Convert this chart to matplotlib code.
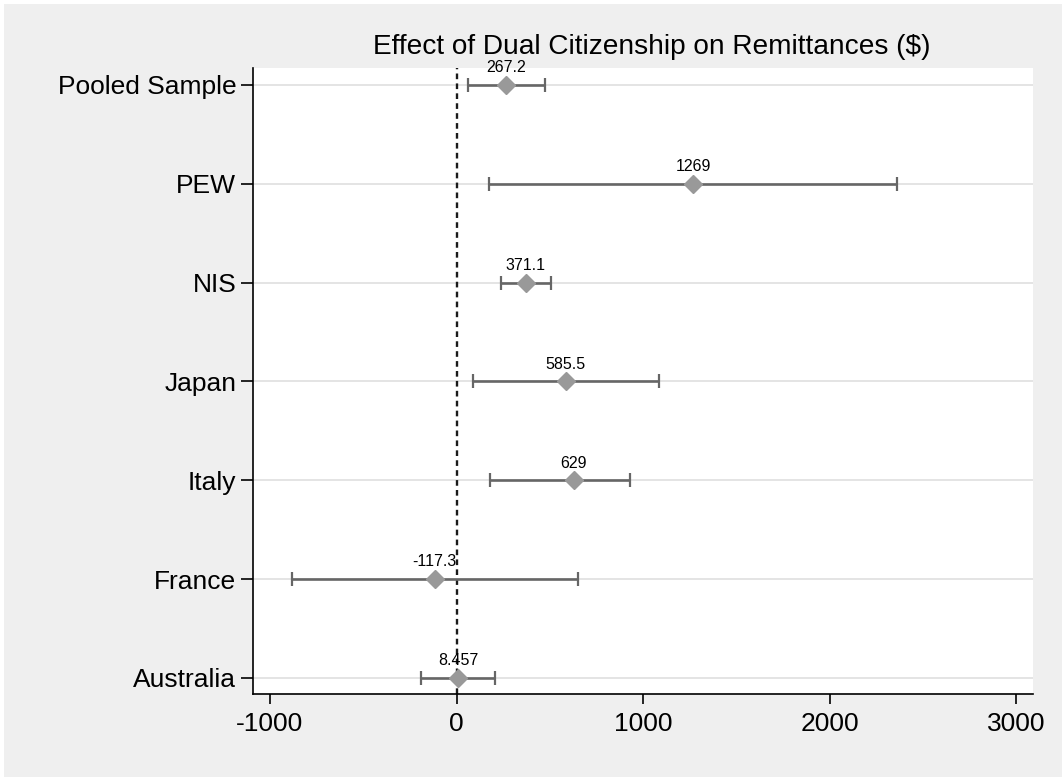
import matplotlib.pyplot as plt
from matplotlib.patches import Rectangle

plt.rcParams['font.family'] = ['Liberation Sans', 'DejaVu Sans']

# estimates and 95% intervals, top to bottom as in the chart
labels = ['Pooled Sample', 'PEW', 'NIS', 'Japan', 'Italy', 'France', 'Australia']
effect = [267.2, 1269, 371.1, 585.5, 629, -117.3, 8.457]
ci_low = [61, 175, 236, 87, 177, -884, -189]
ci_high = [473, 2361, 504, 1087, 932, 648, 204]
value_text = ['267.2', '1269', '371.1', '585.5', '629', '-117.3', '8.457']
xticks = [-1000, 0, 1000, 2000, 3000]

bg = '#efefef'
fig = plt.figure(figsize=(10.62, 7.77), dpi=100, facecolor='white')
fig.patches.append(Rectangle((4 / 1062, 0), 1, 1 - 4 / 777, transform=fig.transFigure,
                             facecolor=bg, edgecolor='none', zorder=-10))
ax = fig.add_axes([253 / 1062, 1 - 694 / 777, (1033 - 253) / 1062, (694 - 68) / 777])
ax.set_facecolor('white')

# first label at the top
ypos = list(range(len(labels) - 1, -1, -1))

for y in ypos:
    ax.axhline(y, color='#e4e4e4', lw=1.4, zorder=0)

ax.axvline(0, color='#1a1a1a', lw=1.7, linestyle=(0, (2.4, 1.8)), zorder=1)

xerr = [[e - lo for e, lo in zip(effect, ci_low)], [hi - e for e, hi in zip(effect, ci_high)]]
ax.errorbar(effect, ypos, xerr=xerr, fmt='none', ecolor='#666666', elinewidth=1.9,
            capsize=4.8, capthick=1.6, zorder=2)
ax.plot(effect, ypos, linestyle='none', marker='D', markersize=9.5,
        color='#999999', markeredgecolor='#999999', zorder=3)

for x, y, t in zip(effect, ypos, value_text):
    ax.annotate(t, (x, y), xytext=(0, 7), textcoords='offset points',
                ha='center', va='bottom', fontsize=11.5)

ax.set_xlim(-1091, 3089)
ax.set_ylim(-0.162, 6.172)
ax.set_xticks(xticks)
ax.set_xticklabels([str(v) for v in xticks])
ax.set_yticks(ypos)
ax.set_yticklabels(labels)
ax.tick_params(axis='x', length=7, width=1.2, labelsize=19, pad=6)
ax.tick_params(axis='y', length=9, width=1.2, labelsize=19, pad=3)

for s in ['top', 'right']:
    ax.spines[s].set_visible(False)
for s in ['left', 'bottom']:
    ax.spines[s].set_linewidth(1.2)

fig.text(652 / 1062, 1 - 47 / 777, 'Effect of Dual Citizenship on Remittances ($)',
         ha='center', va='center', fontsize=20.2)

fig.savefig('out.png', dpi=100, facecolor=fig.get_facecolor())
